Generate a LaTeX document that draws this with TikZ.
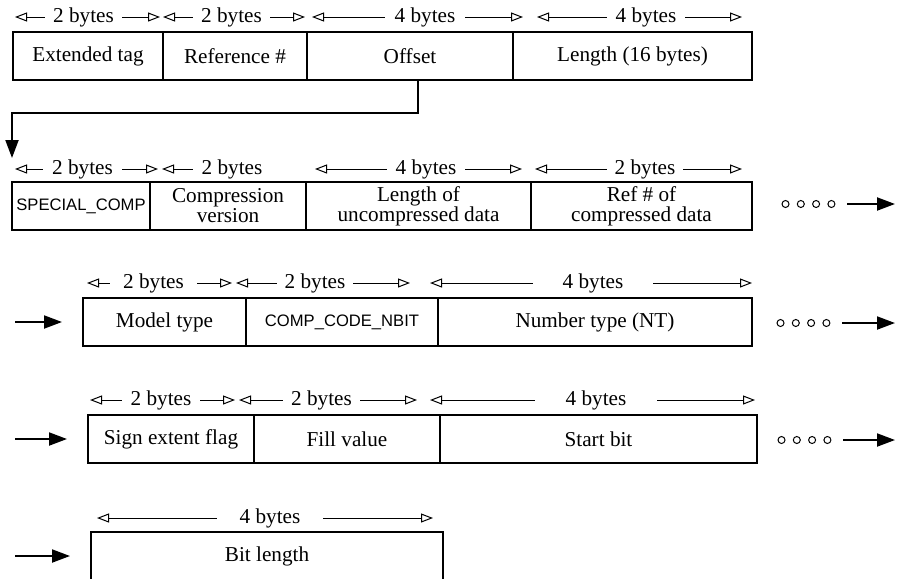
\documentclass[tikz,border=0pt]{standalone}
\usepackage{fontspec}
\setmainfont{Liberation Serif}
\newfontfamily\codefont{Liberation Sans}
\usetikzlibrary{arrows.meta,positioning}

\begin{document}
\begin{tikzpicture}[x=0.5pt, y=-0.5pt,
    node distance=0pt,
    field/.style={draw, line width=1pt, minimum height=24pt, inner sep=0pt, outer sep=0pt, align=center, font=\fontsize{10.6}{10}\selectfont},
    code/.style={font=\codefont\fontsize{8.3}{10}\selectfont},
    bytes/.style={inner sep=0pt, font=\fontsize{10.6}{12}\selectfont},
    dim/.style={-{Triangle[open, length=6pt, width=4.5pt]}, line width=0.5pt},
    arrow/.style={-{Triangle[length=9pt, width=6.5pt]}, line width=1pt},
    ring/.style={circle, draw, line width=0.5pt, minimum size=3.5pt, inner sep=0pt}
  ]
  \useasboundingbox (0,0) rectangle (897,578);
  % tag / ref / offset / length
  \node[field, minimum width=75pt, anchor=west] (exttag) at (13,56) {Extended tag};
  \node[field, minimum width=72pt, right=of exttag] (refnum) {Reference \#};
  \node[field, minimum width=103pt, right=of refnum] (offset) {Offset};
  \node[field, minimum width=119.5pt, right=of offset] (length) {Length (16 bytes)};
  % compression header
  \node[field, code, minimum width=69pt, anchor=west] (special) at (12,206) {SPECIAL\_COMP};
  \node[field, minimum width=78pt, right=of special] (compver) {Compression\\version};
  \node[field, minimum width=112.5pt, right=of compver] (uncomplen) {Length of\\uncompressed data};
  \node[field, minimum width=110.5pt, right=of uncomplen] (compref) {Ref \# of\\compressed data};
  % nbit part
  \node[field, minimum width=81.5pt, anchor=west] (model) at (83,322) {Model type};
  \node[field, code, minimum width=96pt, right=of model] (nbitcode) {COMP\_CODE\_NBIT};
  \node[field, minimum width=157pt, right=of nbitcode] (numtype) {Number type (NT)};
  \node[field, minimum width=83pt, anchor=west] (signflag) at (88,439) {Sign extent flag};
  \node[field, minimum width=93pt, right=of signflag] (fillval) {Fill value};
  \node[field, minimum width=158.5pt, right=of fillval] (startbit) {Start bit};
  \node[field, minimum width=176pt, anchor=west] (bitlen) at (91,556) {Bit length};

  % byte counts
  \foreach \nm/\yy/\ltip/\lend/\rstart/\rtip/\nb in {
      1a/17/15/45/122/160/2, 1b/17/163/193/270/305/2, 1c/17/312/385/465/523/4, 1d/17/537/607/685/742/4,
      2a/169/15/43/122/158/2, 2c/169/315/387/465/522/4, 2d/169/535/607/683/742/2,
      3a/283/87/110/197/232/2, 3b/283/236/277/353/410/2, 3c/283/430/533/653/752/4,
      4a/400/90/122/200/235/2, 4b/400/239/283/360/417/2, 4c/400/430/535/657/755/4,
      5a/518/97/217/323/433/4} {
    \node[bytes, minimum width={(\rstart-\lend)*0.5pt}] (bytes\nm) at ({(\lend+\rstart)/2},\yy) {\nb\ bytes};
    \coordinate (bytes\nm-l) at (\ltip,\yy);
    \coordinate (bytes\nm-r) at (\rtip,\yy);
    \draw[dim] (bytes\nm.west) -- (bytes\nm-l);
    \draw[dim] (bytes\nm.east) -- (bytes\nm-r);
  }
  \node[bytes, minimum width=39pt] (bytes2b) at (232,169) {2 bytes};
  \coordinate (bytes2b-l) at (162,169);
  \draw[dim] (bytes2b.west) -- (bytes2b-l);

  % offset points to the compressed data
  \coordinate (bend) at (418,113);
  \coordinate (drop) at (12,158);
  \draw[arrow] (offset.south -| bend) -- (bend) -| (drop);

  % continued on the next line
  \foreach \r/\yy/\xx in {2/204/785.5, 3/323/780.5, 4/440/781.5} {
    \foreach \k in {0,...,3}
      \node[ring] (dots\r-\k) at ({\xx+15.3*\k},\yy) {};
    \coordinate (out\r) at (895,\yy);
    \draw[arrow, shorten <=6pt] (dots\r-3) -- (out\r);
  }
  \foreach \r/\yy/\fld in {3/322/model, 4/439/signflag, 5/556/bitlen} {
    \coordinate (in\r) at (15,\yy);
    \draw[arrow, shorten >=10.5pt] (in\r) -- (\fld);
  }
\end{tikzpicture}
\end{document}
